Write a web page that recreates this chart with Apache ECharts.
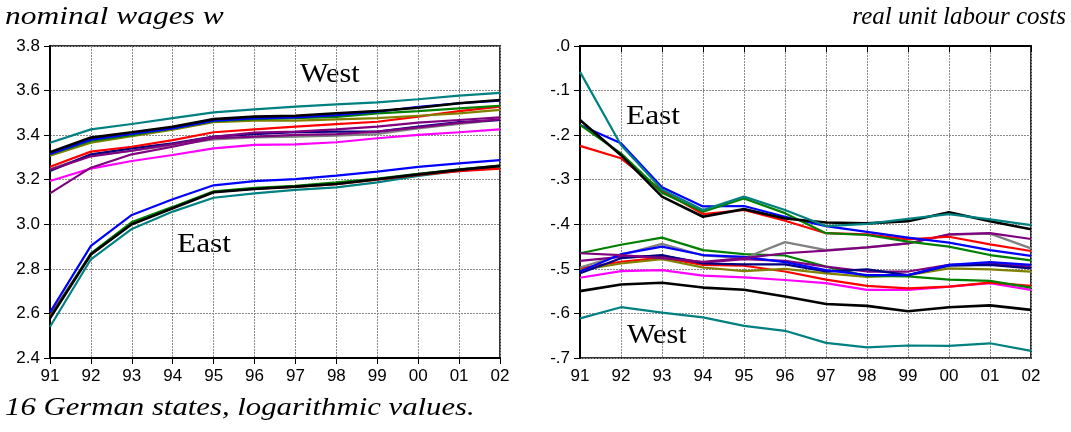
<!DOCTYPE html>
<html>
<head>
<meta charset="utf-8">
<script src="https://cdn.jsdelivr.net/npm/echarts@6/dist/echarts.min.js"></script>
<style>
  html, body { margin: 0; padding: 0; background: #fff; }
  #chart { width: 1071px; height: 432px; }
</style>
</head>
<body>
<div id="chart"></div>
<script>
// Years on the horizontal axes (1991 - 2002)
const years = ['91', '92', '93', '94', '95', '96', '97', '98', '99', '00', '01', '02'];

// Nominal wages w (log), eastern states
const wEastBlue  = [2.605, 2.903, 3.042, 3.112, 3.175, 3.194, 3.203, 3.218, 3.236, 3.258, 3.273, 3.288];
const wEastRed   = [2.590, 2.865, 3.005, 3.075, 3.145, 3.160, 3.168, 3.180, 3.200, 3.222, 3.238, 3.250];
const wEastGreen = [2.585, 2.870, 3.010, 3.078, 3.148, 3.163, 3.173, 3.188, 3.205, 3.226, 3.246, 3.263];
const wEastBlack = [2.578, 2.865, 3.000, 3.072, 3.144, 3.158, 3.169, 3.181, 3.202, 3.224, 3.244, 3.262];
const wEastTeal  = [2.540, 2.843, 2.979, 3.057, 3.119, 3.139, 3.154, 3.166, 3.188, 3.217, 3.239, 3.256];

// Nominal wages w (log), western states
const wWestMagenta = [3.194, 3.250, 3.284, 3.311, 3.341, 3.356, 3.359, 3.368, 3.386, 3.401, 3.413, 3.426];
const wWestGray    = [3.248, 3.308, 3.330, 3.355, 3.381, 3.390, 3.393, 3.398, 3.405, 3.430, 3.450, 3.468];
const wWestNavy    = [3.239, 3.314, 3.341, 3.363, 3.393, 3.405, 3.413, 3.416, 3.416, 3.438, 3.458, 3.468];
const wWestPurple2 = [3.139, 3.254, 3.314, 3.348, 3.386, 3.393, 3.401, 3.405, 3.416, 3.435, 3.455, 3.471];
const wWestPurple  = [3.244, 3.305, 3.330, 3.360, 3.392, 3.411, 3.416, 3.426, 3.438, 3.456, 3.468, 3.480];
const wWestRed     = [3.258, 3.326, 3.348, 3.378, 3.413, 3.426, 3.438, 3.449, 3.460, 3.483, 3.508, 3.528];
const wWestOlive   = [3.308, 3.366, 3.395, 3.425, 3.458, 3.465, 3.465, 3.471, 3.476, 3.487, 3.498, 3.513];
const wWestGreen   = [3.315, 3.374, 3.400, 3.430, 3.463, 3.472, 3.476, 3.482, 3.498, 3.508, 3.520, 3.532];
const wWestBlue    = [3.315, 3.380, 3.405, 3.430, 3.465, 3.475, 3.480, 3.490, 3.505, 3.527, 3.543, 3.555];
const wWestBlack   = [3.323, 3.389, 3.413, 3.438, 3.472, 3.483, 3.487, 3.498, 3.508, 3.523, 3.543, 3.558];
const wWestTeal    = [3.366, 3.426, 3.450, 3.476, 3.502, 3.516, 3.528, 3.538, 3.547, 3.561, 3.577, 3.590];

// Real unit labour costs (log), western states
const rWestTeal    = [-0.611, -0.586, -0.598, -0.609, -0.628, -0.639, -0.666, -0.676, -0.672, -0.673, -0.667, -0.684];
const rWestBlack   = [-0.550, -0.535, -0.531, -0.542, -0.547, -0.562, -0.579, -0.583, -0.595, -0.586, -0.582, -0.592];
const rWestMagenta = [-0.520, -0.505, -0.503, -0.515, -0.519, -0.525, -0.532, -0.547, -0.547, -0.540, -0.532, -0.547];
const rWestRed     = [-0.499, -0.484, -0.475, -0.491, -0.493, -0.506, -0.524, -0.538, -0.544, -0.540, -0.531, -0.538];
const rWestOlive   = [-0.503, -0.488, -0.478, -0.497, -0.505, -0.500, -0.510, -0.518, -0.514, -0.499, -0.501, -0.506];
const rWestGreen   = [-0.465, -0.446, -0.430, -0.458, -0.467, -0.470, -0.495, -0.516, -0.517, -0.524, -0.527, -0.542];
const rWestGray    = [-0.497, -0.469, -0.444, -0.470, -0.476, -0.440, -0.458, -0.452, -0.443, -0.423, -0.421, -0.454];
const rWestPurple2 = [-0.482, -0.473, -0.471, -0.486, -0.478, -0.482, -0.495, -0.506, -0.506, -0.491, -0.488, -0.495];
const rWestNavy    = [-0.510, -0.476, -0.469, -0.488, -0.490, -0.490, -0.506, -0.501, -0.514, -0.493, -0.491, -0.499];
const rWestBlue    = [-0.506, -0.467, -0.450, -0.469, -0.473, -0.485, -0.503, -0.514, -0.514, -0.491, -0.485, -0.491];
const rWestPurple  = [-0.465, -0.469, -0.476, -0.484, -0.476, -0.465, -0.459, -0.452, -0.443, -0.4225, -0.420, -0.433];

// Real unit labour costs (log), eastern states
const rEastRed   = [-0.224, -0.252, -0.325, -0.377, -0.368, -0.392, -0.420, -0.4225, -0.434, -0.428, -0.445, -0.460];
const rEastBlue  = [-0.177, -0.218, -0.317, -0.360, -0.359, -0.383, -0.404, -0.417, -0.430, -0.441, -0.458, -0.471];
const rEastGreen = [-0.177, -0.241, -0.329, -0.372, -0.342, -0.375, -0.420, -0.424, -0.439, -0.450, -0.469, -0.481];
const rEastBlack = [-0.166, -0.245, -0.338, -0.383, -0.366, -0.387, -0.396, -0.398, -0.393, -0.373, -0.393, -0.411];
const rEastTeal  = [-0.058, -0.222, -0.322, -0.368, -0.338, -0.368, -0.404, -0.399, -0.388, -0.377, -0.389, -0.402];

const C = {
  blue: '#0000ff', red: '#ff0000', green: '#008000', black: '#000000',
  teal: '#008080', gray: '#808080', purple: '#800080', olive: '#808000',
  navy: '#000080', magenta: '#ff00ff'
};

// Draw order: later entries sit on top
const wageLines = [
  [wWestMagenta, C.magenta], [wWestGray, C.gray], [wWestNavy, C.navy],
  [wWestPurple2, C.purple], [wWestPurple, C.purple], [wWestRed, C.red],
  [wWestOlive, C.olive], [wWestGreen, C.green], [wWestBlue, C.blue],
  [wWestBlack, C.black], [wWestTeal, C.teal],
  [wEastTeal, C.teal], [wEastRed, C.red], [wEastGreen, C.green],
  [wEastBlack, C.black], [wEastBlue, C.blue]
];
const rulcLines = [
  [rWestTeal, C.teal], [rWestBlack, C.black], [rWestMagenta, C.magenta],
  [rWestRed, C.red], [rWestOlive, C.olive], [rWestGreen, C.green],
  [rWestGray, C.gray], [rWestPurple2, C.purple], [rWestNavy, C.navy],
  [rWestBlue, C.blue], [rWestPurple, C.purple],
  [rEastRed, C.red], [rEastBlue, C.blue], [rEastGreen, C.green],
  [rEastBlack, C.black], [rEastTeal, C.teal]
];

const tickFont = { color: '#000', fontFamily: 'Liberation Sans, Arial, sans-serif', fontSize: 17 };
const dotted = { show: true, lineStyle: { color: '#8a8a8a', type: [2, 1], width: 1 } };

function xAxisFor(gridIndex) {
  return {
    type: 'category', gridIndex, data: years, boundaryGap: false,
    axisLine: { lineStyle: { color: '#000', width: 2 } },
    axisTick: { show: true, length: 6, inside: false, lineStyle: { color: '#000', width: 1 } },
    axisLabel: Object.assign({ margin: 10 }, tickFont),
    splitLine: dotted
  };
}

function seriesFrom(lines, idx) {
  return lines.map(([data, color]) => ({
    type: 'line', xAxisIndex: idx, yAxisIndex: idx, data,
    symbol: 'none', animation: false, silent: true,
    lineStyle: { color, width: color === C.black ? 2.6 : 2.2 }
  }));
}

const serifItalic = 'italic 25px "Liberation Serif", "Times New Roman", serif';
const serifUpright = '28px "Liberation Serif", "Times New Roman", serif';

function label(text, x, y, font, align, scaleX) {
  return {
    type: 'text', x, y, scaleX, silent: true,
    style: { text, font, fill: '#000', textAlign: align, textVerticalAlign: 'middle' }
  };
}

const chart = echarts.init(document.getElementById('chart'), null, { renderer: 'canvas' });
chart.setOption({
  backgroundColor: '#fff',
  animation: false,
  grid: [
    { left: 50, top: 46, width: 450, height: 312, show: true, borderColor: '#333', borderWidth: 2, backgroundColor: 'transparent' },
    { left: 580, top: 46, width: 451, height: 312, show: true, borderColor: '#333', borderWidth: 2, backgroundColor: 'transparent' }
  ],
  xAxis: [xAxisFor(0), xAxisFor(1)],
  yAxis: [
    {
      type: 'value', gridIndex: 0, min: 2.4, max: 3.8, interval: 0.2,
      axisLine: { show: true, lineStyle: { color: '#000', width: 2 } },
      axisTick: { show: true, length: 6, lineStyle: { color: '#000', width: 1 } },
      axisLabel: Object.assign({ margin: 10, formatter: v => v.toFixed(1) }, tickFont),
      splitLine: dotted
    },
    {
      type: 'value', gridIndex: 1, min: -0.7, max: 0, interval: 0.1,
      axisLine: { show: true, lineStyle: { color: '#000', width: 2 } },
      axisTick: { show: true, length: 6, lineStyle: { color: '#000', width: 1 } },
      axisLabel: Object.assign({
        margin: 10,
        formatter: v => (Math.abs(v) < 1e-9 ? '.0' : '-.' + Math.round(-v * 10))
      }, tickFont),
      splitLine: dotted
    }
  ],
  series: seriesFrom(wageLines, 0).concat(seriesFrom(rulcLines, 1)),
  graphic: [
    label('nominal wages w', 5, 17, serifItalic, 'left', 1.26),
    label('real unit labour costs', 1066, 17, serifItalic, 'right', 1.0),
    label('16 German states, logarithmic values.', 5, 408, serifItalic, 'left', 1.23),
    label('West', 300, 75, serifUpright, 'left', 1.08),
    label('East', 177, 245, serifUpright, 'left', 1.12),
    label('East', 626, 117, serifUpright, 'left', 1.12),
    label('West', 627, 336, serifUpright, 'left', 1.08)
  ]
});
</script>
</body>
</html>
